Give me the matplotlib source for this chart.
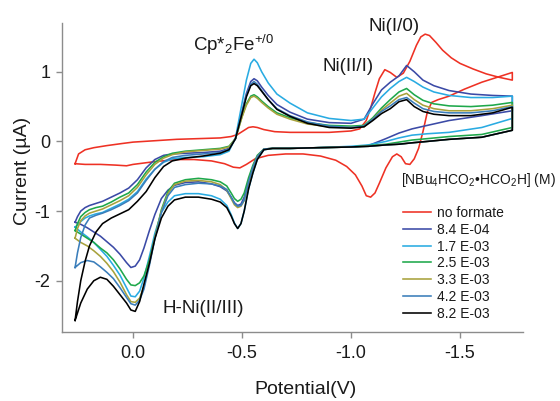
import matplotlib
matplotlib.use("Agg")
import matplotlib.pyplot as plt
from matplotlib.ticker import FixedLocator, FormatStrFormatter

plt.rcParams['font.family'] = ['Liberation Sans', 'DejaVu Sans']
plt.rcParams['mathtext.fontset'] = 'custom'
plt.rcParams['mathtext.rm'] = 'Liberation Sans'
plt.rcParams['mathtext.it'] = 'Liberation Sans:italic'
plt.rcParams['mathtext.bf'] = 'Liberation Sans:bold'
plt.rcParams['axes.unicode_minus'] = False

# ---------------- data ----------------
labels = ["no formate", "8.4 E-04", "1.7 E-03", "2.5 E-03", "3.3 E-03", "4.2 E-03", "8.2 E-03"]
colors = ["#ee3124", "#3b4aa6", "#29abe2", "#1ea84b", "#a8a23c", "#3a7dba", "#000000"]

# no formate (red)
red_fwd_v = [0.266, 0.25, 0.22, 0.18, 0.12, 0.05, 0.0, -0.1, -0.2, -0.3, -0.4, -0.45, -0.48,
             -0.51, -0.53, -0.55, -0.57, -0.6, -0.65, -0.72, -0.8, -0.9, -1.0, -1.04,
             -1.07, -1.09, -1.11, -1.13, -1.155, -1.18, -1.21, -1.24, -1.27, -1.3,
             -1.32, -1.34, -1.36, -1.39, -1.42, -1.46, -1.5, -1.56, -1.62, -1.68, -1.74]
red_fwd_i = [-0.32, -0.18, -0.12, -0.09, -0.06, -0.03, -0.01, 0.01, 0.03, 0.04, 0.05, 0.07, 0.1,
             0.16, 0.2, 0.21, 0.2, 0.17, 0.14, 0.13, 0.13, 0.13, 0.15, 0.18,
             0.3, 0.48, 0.7, 0.9, 1.03, 0.99, 0.92, 0.98, 1.15, 1.38,
             1.5, 1.54, 1.52, 1.42, 1.31, 1.2, 1.12, 1.04, 0.97, 0.92, 0.88]
red_rev_v = [-1.74, -1.68, -1.6, -1.52, -1.45, -1.4, -1.37, -1.35, -1.33, -1.31, -1.29, -1.27,
             -1.25, -1.23, -1.21, -1.19, -1.16, -1.13, -1.11, -1.09, -1.07, -1.05, -1.02,
             -0.98, -0.93, -0.86, -0.78, -0.7, -0.62, -0.56, -0.52, -0.49, -0.46, -0.42,
             -0.36, -0.28, -0.2, -0.1, 0.0, 0.03, 0.08, 0.15, 0.22, 0.266]
red_rev_i = [0.99, 0.93, 0.85, 0.75, 0.65, 0.6, 0.56, 0.42, 0.14, -0.1, -0.25, -0.33,
             -0.32, -0.22, -0.18, -0.22, -0.38, -0.6, -0.74, -0.8, -0.78, -0.64, -0.48,
             -0.36, -0.27, -0.21, -0.18, -0.18, -0.2, -0.25, -0.33, -0.38, -0.37, -0.32,
             -0.28, -0.26, -0.26, -0.29, -0.33, -0.35, -0.34, -0.33, -0.33, -0.32]

# formate series: common potential grids (V)
fwd_v = [0.266, 0.255, 0.24, 0.22, 0.2, 0.17, 0.14, 0.1, 0.06, 0.02,
         -0.02, -0.06, -0.1, -0.14, -0.18, -0.24, -0.32, -0.4, -0.44, -0.47,
         -0.5, -0.52, -0.54, -0.555, -0.57, -0.59, -0.62, -0.66, -0.72, -0.8,
         -0.9, -1.0, -1.06, -1.1, -1.14, -1.18, -1.22, -1.255, -1.29, -1.33,
         -1.38, -1.45, -1.55, -1.65, -1.74]
rev_v = [-1.74, -1.6, -1.45, -1.35, -1.28, -1.22, -1.16, -1.08, -1.0, -0.85,
         -0.72, -0.64, -0.6, -0.57, -0.55, -0.53, -0.51, -0.495, -0.48, -0.465,
         -0.45, -0.43, -0.4, -0.36, -0.3, -0.24, -0.19, -0.16, -0.13, -0.1,
         -0.075, -0.05, -0.03, -0.01, 0.01, 0.03, 0.06, 0.09, 0.12, 0.15,
         0.18, 0.21, 0.24, 0.266]

f84e4_fwd = [-1.16, -1.08, -1.0, -0.95, -0.92, -0.89, -0.86, -0.8, -0.74, -0.67,
             -0.55, -0.38, -0.26, -0.2, -0.18, -0.17, -0.16, -0.14, -0.1, 0.04,
             0.43, 0.69, 0.86, 0.9, 0.87, 0.78, 0.66, 0.53, 0.42, 0.32,
             0.27, 0.26, 0.32, 0.54, 0.74, 0.85, 0.94, 1.09, 1.0, 0.88,
             0.8, 0.73, 0.68, 0.66, 0.65]
f84e4_rev = [0.44, 0.37, 0.3, 0.23, 0.18, 0.12, 0.04, -0.06, -0.08, -0.09,
             -0.1, -0.1, -0.11, -0.22, -0.37, -0.56, -0.8, -0.9, -0.92, -0.88,
             -0.8, -0.71, -0.65, -0.61, -0.58, -0.59, -0.63, -0.7, -0.82, -1.05,
             -1.28, -1.53, -1.7, -1.79, -1.81, -1.74, -1.62, -1.52, -1.44, -1.36,
             -1.3, -1.24, -1.19, -1.16]

f17e3_fwd = [-1.23, -1.2, -1.15, -1.1, -1.07, -1.04, -1.02, -0.96, -0.9, -0.83,
             -0.72, -0.54, -0.4, -0.3, -0.25, -0.23, -0.22, -0.19, -0.14, 0.05,
             0.55, 0.88, 1.12, 1.18, 1.13, 1.0, 0.84, 0.68, 0.55, 0.41,
             0.33, 0.3, 0.32, 0.48, 0.64, 0.76, 0.86, 0.92, 0.86, 0.78,
             0.71, 0.66, 0.63, 0.63, 0.65]
f17e3_rev = [0.33, 0.2, 0.13, 0.11, 0.09, 0.05, 0.0, -0.05, -0.07, -0.09,
             -0.1, -0.1, -0.12, -0.26, -0.45, -0.68, -1.0, -1.18, -1.25, -1.17,
             -1.05, -0.92, -0.83, -0.78, -0.75, -0.75, -0.78, -0.87, -1.02, -1.32,
             -1.65, -1.96, -2.15, -2.23, -2.22, -2.1, -1.92, -1.78, -1.65, -1.55,
             -1.45, -1.37, -1.3, -1.23]

f25e3_fwd = [-1.28, -1.18, -1.08, -1.02, -0.98, -0.95, -0.93, -0.87, -0.8, -0.74,
             -0.62, -0.44, -0.3, -0.22, -0.17, -0.14, -0.12, -0.1, -0.07, 0.04,
             0.36, 0.54, 0.65, 0.67, 0.64, 0.58, 0.5, 0.41, 0.34, 0.27,
             0.23, 0.22, 0.23, 0.34, 0.48, 0.6, 0.71, 0.76, 0.67, 0.59,
             0.54, 0.51, 0.5, 0.52, 0.56]
f25e3_rev = [0.2, 0.1, 0.07, 0.04, 0.02, -0.01, -0.04, -0.06, -0.08, -0.09,
             -0.1, -0.1, -0.11, -0.2, -0.34, -0.52, -0.74, -0.83, -0.86, -0.82,
             -0.74, -0.64, -0.58, -0.55, -0.53, -0.55, -0.6, -0.72, -0.98, -1.38,
             -1.7, -1.93, -2.03, -2.07, -2.06, -1.98, -1.83, -1.7, -1.6, -1.53,
             -1.45, -1.39, -1.33, -1.28]

f33e3_fwd = [-1.39, -1.25, -1.14, -1.07, -1.03, -1.0, -0.97, -0.91, -0.85, -0.78,
             -0.66, -0.48, -0.33, -0.24, -0.19, -0.15, -0.13, -0.11, -0.08, 0.04,
             0.35, 0.52, 0.63, 0.65, 0.62, 0.56, 0.48, 0.39, 0.32, 0.25,
             0.21, 0.2, 0.21, 0.32, 0.45, 0.55, 0.65, 0.69, 0.6, 0.52,
             0.47, 0.44, 0.44, 0.47, 0.52]
f33e3_rev = [0.16, 0.06, 0.03, 0.0, -0.02, -0.04, -0.05, -0.07, -0.08, -0.09,
             -0.1, -0.1, -0.11, -0.22, -0.38, -0.6, -0.85, -0.93, -0.95, -0.91,
             -0.82, -0.7, -0.62, -0.58, -0.56, -0.57, -0.62, -0.75, -1.0, -1.38,
             -1.75, -2.08, -2.25, -2.31, -2.3, -2.2, -2.02, -1.87, -1.75, -1.65,
             -1.57, -1.5, -1.45, -1.39]

f42e3_fwd = [-1.81, -1.6, -1.38, -1.2, -1.1, -1.06, -1.03, -0.98, -0.92, -0.85,
             -0.74, -0.56, -0.4, -0.29, -0.23, -0.2, -0.18, -0.16, -0.11, 0.04,
             0.42, 0.66, 0.82, 0.86, 0.82, 0.73, 0.6, 0.47, 0.37, 0.28,
             0.22, 0.2, 0.22, 0.32, 0.43, 0.51, 0.6, 0.63, 0.55, 0.47,
             0.43, 0.41, 0.41, 0.44, 0.5]
f42e3_rev = [0.16, 0.06, 0.03, 0.0, -0.02, -0.04, -0.05, -0.07, -0.08, -0.09,
             -0.1, -0.1, -0.11, -0.22, -0.37, -0.58, -0.84, -0.92, -0.93, -0.89,
             -0.8, -0.69, -0.64, -0.61, -0.6, -0.62, -0.66, -0.78, -1.02, -1.4,
             -1.78, -2.12, -2.28, -2.35, -2.33, -2.24, -2.1, -1.97, -1.88, -1.8,
             -1.73, -1.71, -1.74, -1.81]

f82e3_fwd = [-2.57, -2.3, -2.0, -1.72, -1.5, -1.3, -1.18, -1.1, -1.04, -0.98,
             -0.86, -0.72, -0.52, -0.36, -0.28, -0.24, -0.21, -0.17, -0.12, 0.04,
             0.4, 0.64, 0.8, 0.83, 0.8, 0.72, 0.6, 0.46, 0.36, 0.26,
             0.2, 0.19, 0.21, 0.3, 0.4, 0.47, 0.57, 0.6, 0.5, 0.43,
             0.39, 0.37, 0.37, 0.41, 0.49]
f82e3_rev = [0.16, 0.06, 0.03, 0.0, -0.02, -0.04, -0.05, -0.07, -0.08, -0.09,
             -0.1, -0.1, -0.12, -0.26, -0.45, -0.68, -1.0, -1.18, -1.25, -1.18,
             -1.07, -0.95, -0.87, -0.83, -0.8, -0.8, -0.84, -0.93, -1.1, -1.4,
             -1.75, -2.05, -2.3, -2.44, -2.42, -2.32, -2.2, -2.08, -1.98, -1.95,
             -2.0, -2.12, -2.32, -2.57]

x_ticks = [0.0, -0.5, -1.0, -1.5]
y_ticks = [-2, -1, 0, 1]

# ---------------- figure ----------------
W, H = 560, 401
fig = plt.figure(figsize=(W / 100, H / 100), dpi=100)
ax = fig.add_axes([62 / W, 1 - 332 / H, (523 - 62) / W, (332 - 23) / H])

series = [
    (red_fwd_v + red_rev_v, red_fwd_i + red_rev_i),
    (fwd_v + rev_v, f84e4_fwd + f84e4_rev),
    (fwd_v + rev_v, f17e3_fwd + f17e3_rev),
    (fwd_v + rev_v, f25e3_fwd + f25e3_rev),
    (fwd_v + rev_v, f33e3_fwd + f33e3_rev),
    (fwd_v + rev_v, f42e3_fwd + f42e3_rev),
    (fwd_v + rev_v, f82e3_fwd + f82e3_rev),
]
for (xv, yv), lab, col in zip(series, labels, colors):
    ax.plot(xv, yv, color=col, lw=1.15, label=lab, solid_joinstyle='round')

ax.set_xlim(0.326, -1.789)
ax.set_ylim(-2.736, 1.70)

for s in ['top', 'right']:
    ax.spines[s].set_visible(False)
for s in ['left', 'bottom']:
    ax.spines[s].set_color('#8c8c8c')
    ax.spines[s].set_linewidth(1.0)

ax.xaxis.set_major_locator(FixedLocator(x_ticks))
ax.xaxis.set_major_formatter(FormatStrFormatter('%.1f'))
ax.yaxis.set_major_locator(FixedLocator(y_ticks))
ax.yaxis.set_major_formatter(FormatStrFormatter('%d'))
ax.tick_params(axis='both', direction='out', length=4.5, width=1.0, color='#8c8c8c',
               labelsize=13, labelcolor='#1a1a1a')
ax.tick_params(axis='x', pad=5)
ax.tick_params(axis='y', pad=4)

ax.set_xlabel('Potential(V)', fontsize=14, color='#1a1a1a')
ax.xaxis.set_label_coords((305 - 62) / 461, (332 - 381) / 309)
ax.set_ylabel('Current (µA)', fontsize=14, color='#1a1a1a')
ax.yaxis.set_label_coords((31 - 62) / 461, (332 - 171) / 309)

def fx(px):
    return px / W

def fy(py):
    return 1 - py / H

tc = '#1a1a1a'
fig.text(fx(193), fy(51), r'Cp*$_2$Fe$^{+/0}$', fontsize=13.5, color=tc, va='baseline')
fig.text(fx(368), fy(31), 'Ni(I/0)', fontsize=13.5, color=tc, va='baseline')
fig.text(fx(322), fy(71), 'Ni(II/I)', fontsize=13.5, color=tc, va='baseline')
fig.text(fx(163), fy(313), 'H-Ni(II/III)', fontsize=13.5, color=tc, va='baseline')
fig.text(fx(401), fy(184), r'[NBu$_4$HCO$_2$•HCO$_2$H] (M)', fontsize=10, color=tc, va='baseline')

leg = ax.legend(loc='upper left', bbox_to_anchor=(fx(403), fy(206)),
                bbox_transform=fig.transFigure, frameon=False, fontsize=10,
                handlelength=2.0, handletextpad=0.45, labelspacing=0.2,
                borderpad=0, borderaxespad=0)
for t in leg.get_texts():
    t.set_color(tc)

fig.savefig('out.png', dpi=100)
